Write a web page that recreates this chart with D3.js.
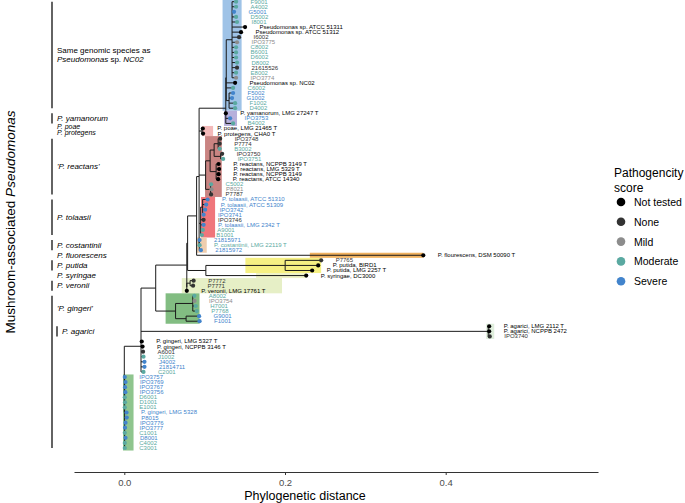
<!DOCTYPE html>
<html><head><meta charset="utf-8">
<script src="https://cdn.jsdelivr.net/npm/d3@7"></script>
<style>body{margin:0;background:#fff}svg{display:block;font-family:"Liberation Sans",Arial,Helvetica,sans-serif}</style>
</head><body><svg id="chart" width="685" height="503"></svg>
<script>
// ---------------- DATA ----------------
const tipLabels = [
 "F9001","A4002","G5001","D5002","I8001","Pseudomonas sp. ATCC 51311","Pseudomonas sp. ATCC 51312","I6002","IPO3775","C8002",
 "B6001","D6002","D8002","21615526","E8002","IPO3774","Pseudomonas sp. NC02","C6002","F5002","G1002",
 "F1002","D4002","P. yamanorum, LMG 27247 T","IPO3753","B4002","P. poae, LMG 21465 T","P. protegens, CHA0 T","IPO3748","P7774","B3002",
 "IPO3750","IPO3751","P. reactans, NCPPB 3149 T","P. reactans, LMG 5329 T","P. reactans, NCPPB 3149","P. reactans, ATCC 14340","C5002","P8021","P7787","P. tolaasii, ATCC 51310",
 "P. tolaasii, ATCC 51309","IPO3742","IPO3741","IPO3746","P. tolaasii, LMG 2342 T","A9001","B1001","21815971","P. costantinii, LMG 22119 T","21815972",
 "P. flourescens, DSM 50090 T","P7765","P. putida, BIRD1","P. putida, LMG 2257 T","P. syringae, DC3000","P7772","P7771","P. veronii, LMG 17761 T","A8002","IPO3754",
 "H7001","P7768","G9001","F1001","P. agarici, LMG 2112 T","P. agarici, NCPPB 2472","IPO3740","P. gingeri, LMG 5327 T","P. gingeri, NCPPB 3146 T","A6001",
 "J1002","J4002","21814711","C2001","IPO3757","IPO3769","IPO3767","IPO3756","D6001","D1001",
 "E1001","P. gingeri, LMG 5328","P8015","IPO3776","IPO3777","C1001","D8001","C4002","C3001"
];
const categories = ["Not tested","None","Mild","Moderate","Severe"];
// index into categories for each tip (same order as tipLabels)
const tipCategory = [
 3,3,4,3,3,0,0,1,2,3,
 3,3,3,1,3,2,0,3,4,4,
 3,3,0,4,3,0,0,1,1,3,
 1,3,0,0,0,0,3,2,1,4,
 4,4,4,1,4,3,3,4,3,4,
 0,1,0,0,0,1,1,0,3,2,
 3,3,4,4,0,0,1,0,0,1,
 3,4,4,3,4,4,4,4,3,3,
 3,4,4,4,4,3,4,3,3
];
// tree topology with branch lengths (tips are 1-based indices into tipLabels)
const newick = `(
 (75:0.0002,76:0.0011,77:0.0005,78:0.0009,79:0.0002,80:0.0005,81:0.0002,82:0.0024,83:0.0026,84:0.0011,85:0.0005,86:0.0002,87:0.0011,88:0.0002,89:0.0002):0.0004,
 (
  (
   (
    (
     (
      (
       (
        (
         (1:0.0050,2:0.0050,3:0.0025,4:0.0050,5:0.0062,6:0.0162,7:0.0112,8:0.0087,9:0.0062,10:0.0050,11:0.0050,12:0.0050,13:0.0062,14:0.0062,15:0.0050,16:0.0050):0.0072,
         17:0.0110,18:0.0085,
         (19:0.0050,20:0.0037,21:0.0075,22:0.0075):0.0035
        ):0.0006,
        23:0.0001,24:0.0054,25:0.0091
       ):0.0332,
       (26:0.0009,27:0.0012):0.0037,
       (
        (
         ((28:0.0025,29:0.0019,30:0.0019):0.0050,(31:0.0019,32:0.0031):0.0081):0.0050,
         (33:0.0031,34:0.0037,35:0.0031,36:0.0025):0.0075
        ):0.0056,
        (37:0.0006,38:0.0012,39:0.0006):0.0062
       ):0.0081,
       ((40:0.0062,41:0.0044,42:0.0031,43:0.0012):0.0025,44:0.0037,45:0.0037,46:0.0027,47:0.0015):0.0019,
       (48:0.0004,49:0.0004,50:0.0020):0.0002
      ):0.0031,
      51:0.2821
     ):0.0112,
     ((52:0.0448,53:0.0411,54:0.0336):0.0987,55:0.1249):0.0227
    ):0.0010,
    ((56:0.0044,57:0.0037):0.0041,58:0):0
   ):0.0387,
   ((59:0.0020,60:0.0022,61:0.0037,62:0.0050):0.0214,(63:0.0162,64:0.0168):0.0131):0.0247
  ):0.0183,
  (65:0.0012,66:0.0012,67:0.0019):0.4321,
  68:0.0009,69:0.0019,70:0.0025,71:0.0031,72:0.0043,73:0.0043,74:0.0031
 ):0.0208
);`;
const axisTicks = [0, 0.2, 0.4];
// clade highlight boxes: tip range and distance range
const hlFrom  = [1, 23, 26, 28, 40, 48, 51, 52, 55, 56, 59, 65, 75];
const hlTo    = [22, 25, 27, 39, 47, 50, 51, 54, 55, 58, 64, 67, 89];
const hlX0    = [0.1223,0.1242,0.0968,0.1005,0.0955,0.0902,0.2309,0.1507,0.1640,0.0715,0.0514,0.4504,-0.0016];
const hlX1    = [0.1460,0.1403,0.1105,0.1213,0.1130,0.1026,0.3720,0.2450,0.2263,0.1963,0.0936,0.4604,0.0115];
// clade bars on the left
const cladeNames = ["Same genomic species as|Pseudomonas sp. NC02","P. yamanorum","P. poae","P. protegens","'P. reactans'","P. tolaasii","P. costantinii","P. fluorescens","P. putida","P. syringae","P. veronii","'P. gingeri'","P. agarici"];
const cladeFrom  = [1,23,26,27,28,40,48,51,52,55,56,59,65];
const cladeTo    = [22,25,26,27,39,47,50,51,54,55,58,89,67];
const cladeLabelFrom = [1,23,26,27,28,40,48,51,52,55,56,59,65];
const cladeLabelTo   = [22,25,26,27,39,47,50,51,54,55,58,64,67];

// ---------------- STYLE ----------------
const catColors = ["#000000","#333333","#8c8c8c","#5aa9a1","#4284cc"];
const hlFills = ["#9fc3e7","#b6afdb","#f3b9b9","#c98482","#ef767b","#eecdae","#f1b25f","#f6f083","#eef2c6","#e6efc6","#82bd82","#dfeedc","#8fc58e"];

const svg = d3.select("#chart");
const nTips = tipLabels.length;
const y = d3.scaleLinear().domain([1, nTips]).range([1.7, 448]);
const step = y(2) - y(1);
const x = d3.scaleLinear().domain([0, 0.4]).range([124.3, 445.7]);

// ---------------- TREE ----------------
function parseNewick(str){
  const s = str.replace(/\s+/g, "");
  let i = 0;
  function node(){
    const n = {};
    if (s[i] === "(") {
      i++; n.children = [node()];
      while (s[i] === ",") { i++; n.children.push(node()); }
      i++;
    }
    let name = "";
    while (i < s.length && !":,();".includes(s[i])) name += s[i++];
    if (name) n.tip = +name;
    n.len = 0;
    if (s[i] === ":") { i++; let num = ""; while (i < s.length && !",();".includes(s[i])) num += s[i++]; n.len = +num; }
    return n;
  }
  return node();
}
const root = d3.hierarchy(parseNewick(newick));
root.each(n => { n.dist = n.parent ? n.parent.dist + n.data.len : 0; });
root.eachAfter(n => { n.yi = n.children ? d3.mean(n.children, c => c.yi) : n.data.tip; });

// highlight boxes
svg.append("g").selectAll("rect").data(hlFrom).join("rect")
  .attr("x", (d,i) => x(hlX0[i]))
  .attr("width", (d,i) => x(hlX1[i]) - x(hlX0[i]))
  .attr("y", (d,i) => y(hlFrom[i]) - step/2)
  .attr("height", (d,i) => y(hlTo[i]) - y(hlFrom[i]) + step)
  .attr("fill", (d,i) => hlFills[i]);

// edges
const gE = svg.append("g").attr("stroke", "#1a1a1a").attr("stroke-width", 1).attr("fill", "none");
root.descendants().filter(n => n.parent).forEach(n => {
  gE.append("line").attr("x1", x(n.parent.dist)).attr("x2", x(n.dist))
    .attr("y1", y(n.yi)).attr("y2", y(n.yi));
});
root.descendants().filter(n => n.children).forEach(n => {
  const ext = d3.extent(n.children, c => c.yi);
  gE.append("line").attr("x1", x(n.dist)).attr("x2", x(n.dist))
    .attr("y1", y(ext[0])).attr("y2", y(ext[1]));
});

// tip points + labels
const leaves = root.leaves();
svg.append("g").selectAll("circle").data(leaves).join("circle")
  .attr("cx", d => x(d.dist)).attr("cy", d => y(d.yi)).attr("r", 2.1)
  .attr("fill", d => catColors[tipCategory[d.data.tip-1]]);
svg.append("g").selectAll("text").data(leaves).join("text")
  .attr("x", d => x(d.dist) + 14.5).attr("y", d => y(d.yi))
  .attr("dominant-baseline", "central").attr("font-size", 6)
  .attr("fill", d => catColors[tipCategory[d.data.tip-1]])
  .text(d => tipLabels[d.data.tip-1]);

// clade bars and labels
const gC = svg.append("g");
cladeNames.forEach((name, i) => {
  const bx = name === "P. agarici" ? 57 : 52;
  if (cladeTo[i] > cladeFrom[i]) {
    gC.append("line").attr("x1", bx).attr("x2", bx)
      .attr("y1", y(cladeFrom[i])).attr("y2", y(cladeTo[i]))
      .attr("stroke", "#222").attr("stroke-width", 1.4);
  }
  let ly = (y(cladeLabelFrom[i]) + y(cladeLabelTo[i])) / 2;
  let fs = 8;
  if (name === "P. poae") { ly -= 2.3; fs = 7; }
  if (name === "P. protegens") { ly -= 0.6; fs = 7; }
  if (name.includes("|")) {
    const t = gC.append("text").attr("x", bx + 5).attr("font-size", 8).attr("fill", "#000");
    t.append("tspan").attr("x", bx + 5).attr("y", ly - 1.5).text(name.split("|")[0]);
    const t2 = gC.append("text").attr("x", bx + 5).attr("y", ly + 7.5).attr("font-size", 8).attr("fill", "#000");
    t2.append("tspan").attr("font-style", "italic").text("Pseudomonas");
    t2.append("tspan").text(" sp. ");
    t2.append("tspan").attr("font-style", "italic").text("NC02");
  } else {
    gC.append("text").attr("x", bx + 5).attr("y", ly).attr("dominant-baseline", "central")
      .attr("font-size", fs).attr("font-style", "italic").attr("fill", "#000").text(name);
  }
});

// x axis
const xPanel = x.copy().domain([x.invert(74), x.invert(598)]).range([74, 598]);
const ax = svg.append("g").attr("transform", "translate(0,472)")
  .call(d3.axisBottom(xPanel).tickValues(axisTicks).tickFormat(d3.format(".1f")).tickSize(3).tickSizeOuter(0));
ax.select(".domain").attr("stroke", "#333").attr("stroke-width", 1.1);
ax.selectAll(".tick line").attr("stroke", "#333");
ax.selectAll(".tick text").attr("font-size", 9.5).attr("fill", "#4d4d4d").attr("font-family", "Liberation Sans, Arial, sans-serif").attr("dy", "0.85em");
svg.append("text").attr("x", 305).attr("y", 496).attr("text-anchor", "middle")
  .attr("dominant-baseline", "central").attr("font-size", 12.5).attr("fill", "#000").text("Phylogenetic distance");

// y axis title
const yt = svg.append("text").attr("transform", "translate(10,222) rotate(-90)")
  .attr("text-anchor", "middle").attr("dominant-baseline", "central").attr("font-size", 13.5).attr("fill", "#000");
yt.append("tspan").text("Mushroom-associated ");
yt.append("tspan").attr("font-style", "italic").text("Pseudomonas");

// legend
const lg = svg.append("g");
lg.append("text").attr("x", 614).attr("y", 173).attr("dominant-baseline", "central").attr("font-size", 12).text("Pathogencity");
lg.append("text").attr("x", 614).attr("y", 188).attr("dominant-baseline", "central").attr("font-size", 12).text("score");
categories.forEach((c, i) => {
  const cy = 202 + i * 19.8;
  lg.append("circle").attr("cx", 621).attr("cy", cy).attr("r", 4.3).attr("fill", catColors[i]);
  lg.append("text").attr("x", 634).attr("y", cy).attr("dominant-baseline", "central").attr("font-size", 10.5).attr("fill", "#000").text(c);
});
</script></body></html>
